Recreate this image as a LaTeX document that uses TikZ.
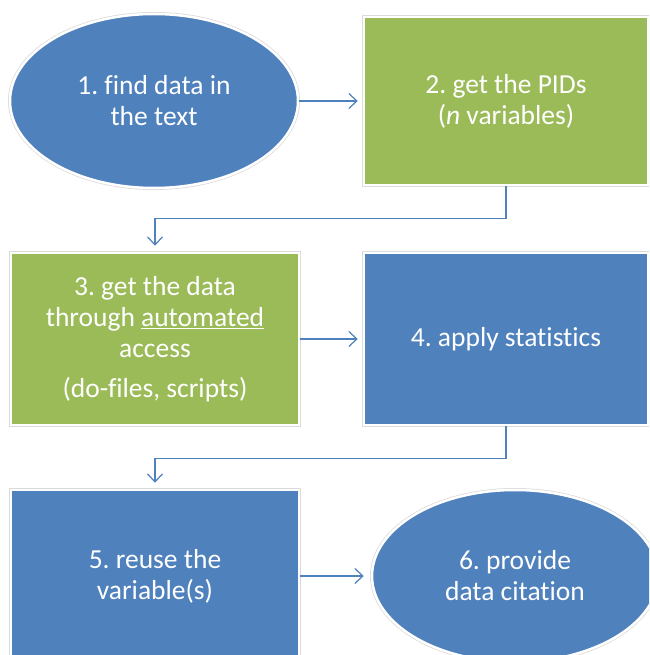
\documentclass[tikz,border=0pt]{standalone}
\usepackage{fontspec}
\setmainfont{Carlito}[Ligatures=NoCommon]
\frenchspacing
\usetikzlibrary{arrows.meta,shapes.geometric}
\definecolor{cblue}{HTML}{4F81BD}
\definecolor{cgreen}{HTML}{9BBB59}
\definecolor{cline}{HTML}{4F81BD}
\begin{document}
\begin{tikzpicture}[x=1pt,y=-1pt,
  shp/.style={draw=white, line width=2.5pt, preaction={draw=black!14, line width=4pt},
    text=white, font=\fontsize{27.5}{31}\selectfont\frenchspacing, align=center, inner sep=0pt},
  bluebox/.style={shp, rectangle, fill=cblue},
  greenbox/.style={shp, rectangle, fill=cgreen},
  blueoval/.style={shp, ellipse, fill=cblue},
  conn/.style={draw=cline, line width=1.4pt, -{Straight Barb[length=8pt,width=15pt,line width=1.2pt]}}
]
\useasboundingbox (0,0) rectangle (649,655);
\clip (0,0) rectangle (649,655);
\fill[white] (0,0) rectangle (649,655);

\node[blueoval, minimum width=288pt, minimum height=174pt] (n1) at (154,101) {1. find data in\\the text};
\node[greenbox, minimum width=284pt, minimum height=168pt] (n2) at (506,101) {2. get the PIDs\\(\textit{n} variables)};
\node[greenbox, minimum width=288pt, minimum height=172pt] (n3) at (155,339) {3. get the data\\through \underline{automated}\\access\\[9pt](do-files, scripts)};
\node[bluebox, minimum width=284pt, minimum height=172pt] (n4) at (506,339) {4. apply statistics};
\node[bluebox, minimum width=288pt, minimum height=172pt] (n5) at (155,576) {5. reuse the\\variable(s)};
\node[blueoval, minimum width=286pt, minimum height=172pt] (n6) at (515,576) {6. provide\\data citation};

\draw[conn] (n1.east) -- ([xshift=-5pt]n2.west);
\draw[conn] (n2.south) -- ++(0,32) -| ([yshift=6pt]n3.north);
\draw[conn] (n3.east) -- ([xshift=-5pt]n4.west);
\draw[conn] (n4.south) -- ++(0,32) -| ([yshift=6pt]n5.north);
\draw[conn] (n5.east) -- ([xshift=-7pt]n6.west);
\end{tikzpicture}
\end{document}
